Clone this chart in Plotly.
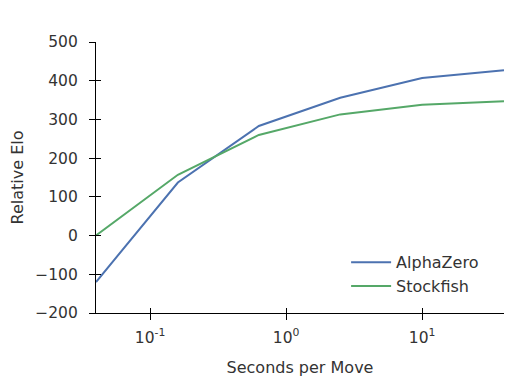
import numpy as np
import plotly.graph_objects as go

seconds = [0.04, 0.16, 0.63, 2.5, 10, 40]
alphazero = [-120, 137, 283, 356, 407, 427]
stockfish = [0, 157, 260, 313, 338, 347]
x_tickvals = [0.1, 1, 10]
x_ticktext = ["10<sup>-1</sup>", "10<sup>0</sup>", "10<sup>1</sup>"]
y_tickvals = [-200, -100, 0, 100, 200, 300, 400, 500]

fig = go.Figure()
fig.add_trace(go.Scatter(x=seconds, y=alphazero, mode="lines", name="AlphaZero",
                         line=dict(color="#4C72B0", width=2)))
fig.add_trace(go.Scatter(x=seconds, y=stockfish, mode="lines", name="Stockfish",
                         line=dict(color="#55A868", width=2)))
# invisible trace carrying the inner-tick overlay axes
fig.add_trace(go.Scatter(x=seconds, y=stockfish, mode="lines", xaxis="x2", yaxis="y2",
                         line=dict(width=0), showlegend=False, hoverinfo="skip", opacity=0))

xr = [np.log10(0.04), np.log10(40)]
yr = [-200, 500]
txt = "#333333"
tickfont = dict(family="DejaVu Sans", size=15.5, color=txt)

fig.update_layout(
    width=513, height=370,
    margin=dict(l=88, r=17, t=34, b=65),
    paper_bgcolor="white", plot_bgcolor="white",
    font=dict(family="DejaVu Sans", size=15, color=txt),
    showlegend=True,
    legend=dict(x=0.613, y=0.25, xanchor="left", yanchor="top",
                bgcolor="rgba(0,0,0,0)",
                font=dict(family="DejaVu Sans", size=16, color=txt),
                tracegroupgap=0, itemwidth=40),
    xaxis=dict(type="log", range=xr, tickvals=x_tickvals, ticktext=x_ticktext,
               tickfont=tickfont, automargin=False,
               showline=True, linecolor="black", linewidth=1.2, mirror=False,
               ticks="outside", ticklen=6, tickwidth=1.2, tickcolor="black",
               ticklabelstandoff=4,
               showgrid=False, zeroline=False,
               title=dict(text="Seconds per Move", standoff=16,
                          font=dict(family="DejaVu Sans", size=16, color=txt))),
    yaxis=dict(range=yr, tickvals=y_tickvals, tickfont=tickfont, automargin=False,
               showline=True, linecolor="black", linewidth=1.2,
               ticks="outside", ticklen=6, tickwidth=1.2, tickcolor="black",
               ticklabelstandoff=8,
               showgrid=False, zeroline=False,
               title=dict(text="Relative Elo", standoff=9,
                          font=dict(family="DejaVu Sans", size=16, color=txt))),
    xaxis2=dict(type="log", range=xr, tickvals=x_tickvals, showticklabels=False,
                overlaying="x", side="bottom", anchor="y2", automargin=False,
                ticks="inside", ticklen=5, tickwidth=1.2, tickcolor="black",
                showgrid=False, zeroline=False, showline=False),
    yaxis2=dict(range=yr, tickvals=y_tickvals, showticklabels=False,
                overlaying="y", side="left", anchor="x2", automargin=False,
                ticks="inside", ticklen=5, tickwidth=1.2, tickcolor="black",
                showgrid=False, zeroline=False, showline=False),
)

fig.write_html("out.html")
